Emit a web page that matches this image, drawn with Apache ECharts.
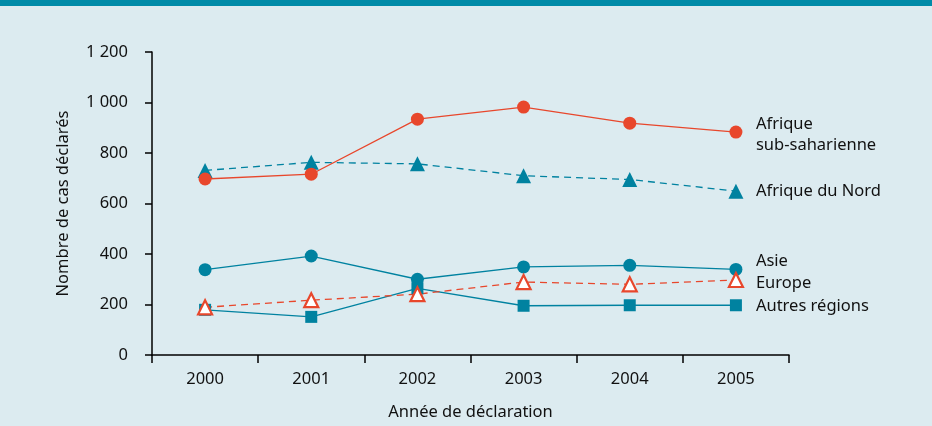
<!DOCTYPE html>
<html>
<head>
<meta charset="utf-8">
<script src="https://cdn.jsdelivr.net/npm/echarts@6/dist/echarts.min.js"></script>
<style>
  html, body { margin: 0; padding: 0; background: #dcebf0; }
  #chart { width: 932px; height: 426px; }
</style>
</head>
<body>
<div id="chart"></div>
<script>
// années et valeurs
var years = ['2000', '2001', '2002', '2003', '2004', '2005'];
var afriqueSub = [697, 716, 934, 982, 918, 883];
var afriqueNord = [731, 763, 757, 710, 695, 649];
var asie = [338, 392, 300, 349, 355, 339];
var europe = [189, 217, 241, 289, 280, 297];
var autres = [179, 151, 264, 195, 197, 197];

var red = '#e8472c';
var teal = '#0082a0';
var font = '"Noto Sans", sans-serif';
var txt = '#111';

var myChart = echarts.init(document.getElementById('chart'));

function endLabel(text, dy) {
    return {
        show: true,
        formatter: text,
        distance: 20,
        offset: [0, dy],
        color: txt,
        fontSize: 16.5,
        fontFamily: font,
        lineHeight: 21,
        align: 'left'
    };
}

var option = {
    backgroundColor: '#dcebf0',
    animation: false,
    graphic: [
        { type: 'rect', left: 0, top: 0, shape: { width: 932, height: 6 }, style: { fill: '#008ba8' } }
    ],
    grid: {
        left: 152,
        right: 143,
        top: 52,
        bottom: 70
    },
    xAxis: {
        type: 'category',
        data: years,
        boundaryGap: true,
        name: 'Année de déclaration',
        nameLocation: 'middle',
        nameGap: 49,
        nameTextStyle: { color: txt, fontSize: 16.5, fontFamily: font },
        axisLine: { lineStyle: { color: '#000', width: 1.5 } },
        axisTick: { show: true, length: 8, lineStyle: { color: '#000', width: 1.5 } },
        axisLabel: { color: txt, fontSize: 16.5, fontFamily: font, margin: 16 }
    },
    yAxis: {
        type: 'value',
        min: 0,
        max: 1200,
        interval: 200,
        name: 'Nombre de cas déclarés',
        nameLocation: 'middle',
        nameGap: 80,
        nameTextStyle: { color: txt, fontSize: 16.5, fontFamily: font },
        axisLine: { show: true, lineStyle: { color: '#000', width: 1.5 } },
        axisTick: { show: true, length: 7, lineStyle: { color: '#000', width: 1.5 } },
        splitLine: { show: false },
        axisLabel: {
            color: txt, fontSize: 16.5, fontFamily: font, margin: 24,
            formatter: function (v) { return v >= 1000 ? '1 ' + String(v).slice(1) : String(v); }
        }
    },
    series: [
        {
            name: 'Afrique du Nord',
            type: 'line',
            data: afriqueNord,
            symbol: 'triangle',
            symbolSize: 15,
            itemStyle: { color: teal },
            lineStyle: { color: teal, width: 1.3, type: [7, 5] },
            endLabel: endLabel('Afrique du Nord', 0)
        },
        {
            name: 'Afrique sub-saharienne',
            type: 'line',
            data: afriqueSub,
            symbol: 'circle',
            symbolSize: 13,
            itemStyle: { color: red },
            lineStyle: { color: red, width: 1.3 },
            endLabel: endLabel('Afrique\nsub-saharienne', 3)
        },
        {
            name: 'Asie',
            type: 'line',
            data: asie,
            symbol: 'circle',
            symbolSize: 13,
            itemStyle: { color: teal },
            lineStyle: { color: teal, width: 1.3 },
            endLabel: endLabel('Asie', -8)
        },
        {
            name: 'Autres régions',
            type: 'line',
            data: autres,
            symbol: 'rect',
            symbolSize: 12,
            itemStyle: { color: teal },
            lineStyle: { color: teal, width: 1.3 },
            endLabel: endLabel('Autres régions', 1)
        },
        {
            name: 'Europe',
            type: 'line',
            data: europe,
            symbol: 'triangle',
            symbolSize: 14,
            itemStyle: { color: '#fff', borderColor: red, borderWidth: 2.2 },
            lineStyle: { color: red, width: 1.3, type: [7, 5] },
            endLabel: endLabel('Europe', 3)
        }
    ]
};

myChart.setOption(option);
</script>
</body>
</html>
